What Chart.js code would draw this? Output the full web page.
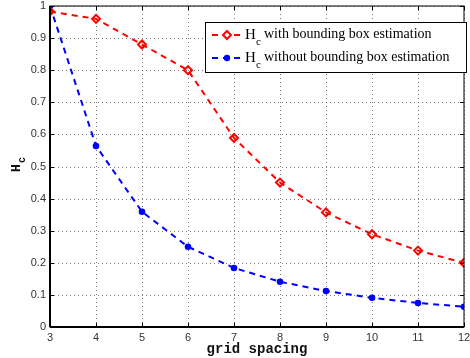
<!DOCTYPE html>
<html>
<head>
<meta charset="utf-8">
<script src="https://cdn.jsdelivr.net/npm/chart.js@4.4.0/dist/chart.umd.min.js"></script>
<style>
  html, body { margin: 0; padding: 0; background: #fff; }
  #wrap { width: 470px; height: 358px; }
</style>
</head>
<body>
<div id="wrap"><canvas id="hcChart"></canvas></div>
<script>
// données
const gridSpacing = [3, 4, 5, 6, 7, 8, 9, 10, 11, 12];
const hcWithBox = [0.983, 0.96, 0.88, 0.80, 0.589, 0.45, 0.357, 0.289, 0.238, 0.20];
const hcWithoutBox = [1.0, 0.564, 0.359, 0.25, 0.184, 0.141, 0.112, 0.091, 0.075, 0.063];
const yTicks = [0, 0.1, 0.2, 0.3, 0.4, 0.5, 0.6, 0.7, 0.8, 0.9, 1];
const legendLabels = ['with bounding box estimation', 'without bounding box estimation'];

const toPoints = ys => ys.map((y, i) => ({ x: gridSpacing[i], y: y }));

// grille pointillée dessinée à la main (sous les courbes)
const dottedGrid = {
    id: 'dottedGrid',
    beforeDatasetsDraw(chart) {
        const c = chart.ctx;
        const a = chart.chartArea;
        const xs = chart.scales.x, ys = chart.scales.y;
        c.save();
        c.strokeStyle = '#777';
        c.lineWidth = 1;
        c.setLineDash([1, 3]);
        c.beginPath();
        gridSpacing.forEach(v => {
            const px = Math.round(xs.getPixelForValue(v)) + 0.5;
            c.moveTo(px, a.top); c.lineTo(px, a.bottom);
        });
        yTicks.forEach(v => {
            const py = Math.round(ys.getPixelForValue(v)) + 0.5;
            c.moveTo(a.left, py); c.lineTo(a.right, py);
        });
        c.stroke();
        c.restore();
    }
};

// cadre, graduations internes, titres et légende façon MATLAB
const matlabDecor = {
    id: 'matlabDecor',
    afterDraw(chart) {
        const c = chart.ctx;
        const a = chart.chartArea;
        const xs = chart.scales.x, ys = chart.scales.y;
        c.save();
        c.strokeStyle = '#000';
        c.lineWidth = 1;
        c.strokeRect(a.left, a.top, a.right - a.left, a.bottom - a.top);
        c.lineWidth = 2;
        c.beginPath();
        c.moveTo(a.left, a.bottom);
        c.lineTo(a.right, a.bottom);
        c.moveTo(a.left, a.top);
        c.lineTo(a.left, a.bottom);
        c.stroke();
        c.lineWidth = 1;
        c.beginPath();
        gridSpacing.forEach(v => {
            const px = Math.round(xs.getPixelForValue(v)) + 0.5;
            c.moveTo(px, a.bottom); c.lineTo(px, a.bottom - 4);
            c.moveTo(px, a.top); c.lineTo(px, a.top + 4);
        });
        yTicks.forEach(v => {
            const py = Math.round(ys.getPixelForValue(v)) + 0.5;
            c.moveTo(a.left, py); c.lineTo(a.left + 4, py);
            c.moveTo(a.right, py); c.lineTo(a.right - 4, py);
        });
        c.stroke();

        // titres des axes
        c.fillStyle = '#111';
        c.font = 'bold 14px "Liberation Mono"';
        c.textAlign = 'center';
        c.textBaseline = 'middle';
        c.fillText('grid spacing', (a.left + a.right) / 2, 349);
        c.save();
        c.translate(17, 166);
        c.rotate(-Math.PI / 2);
        c.font = 'bold 13px "Liberation Mono"';
        c.textAlign = 'left';
        c.fillText('H', -6, 0);
        c.font = 'bold 10px "Liberation Mono"';
        c.fillText('c', 3, 5);
        c.restore();

        // légende
        const lx = 205, ly = 22, lw = 261, lh = 50;
        c.fillStyle = '#fff';
        c.fillRect(lx, ly, lw, lh);
        c.strokeStyle = '#000';
        c.lineWidth = 1;
        c.strokeRect(lx + 0.5, ly + 0.5, lw, lh);
        const rows = [
            { y: 35, color: '#ff0000', text: legendLabels[0], diamond: true },
            { y: 58, color: '#0000ff', text: legendLabels[1], diamond: false }
        ];
        rows.forEach(r => {
            c.strokeStyle = r.color;
            c.lineWidth = 2;
            c.setLineDash([6, 5]);
            c.beginPath();
            c.moveTo(212, r.y); c.lineTo(243, r.y);
            c.stroke();
            c.setLineDash([]);
            if (r.diamond) {
                c.fillStyle = '#fff';
                c.beginPath();
                c.moveTo(227, r.y - 4); c.lineTo(231, r.y);
                c.lineTo(227, r.y + 4); c.lineTo(223, r.y);
                c.closePath();
                c.fill(); c.stroke();
            } else {
                c.fillStyle = r.color;
                c.beginPath();
                c.arc(227, r.y, 3.2, 0, Math.PI * 2);
                c.fill();
            }
            c.fillStyle = '#000';
            c.textAlign = 'left';
            c.textBaseline = 'alphabetic';
            c.font = '15px "Liberation Serif"';
            c.fillText('H', 245, r.y + 4);
            c.font = '11px "Liberation Serif"';
            c.fillText('c', 256, r.y + 10);
            c.font = '14px "Liberation Serif"';
            c.fillText(r.text, 264, r.y + 3);
        });
        c.restore();
    }
};

new Chart(document.getElementById('hcChart'), {
    type: 'line',
    data: {
        datasets: [{
            label: 'Hc with bounding box estimation',
            data: toPoints(hcWithBox),
            borderColor: '#ff0000',
            backgroundColor: 'rgba(255,255,255,0)',
            borderWidth: 2,
            borderDash: [6, 5],
            pointStyle: 'rectRot',
            pointRadius: 4,
            pointBorderWidth: 2,
            pointBorderColor: '#ff0000',
            pointBackgroundColor: 'rgba(255,255,255,0)',
            tension: 0
        }, {
            label: 'Hc without bounding box estimation',
            data: toPoints(hcWithoutBox),
            borderColor: '#0000ff',
            backgroundColor: '#0000ff',
            borderWidth: 2,
            borderDash: [6, 5],
            pointStyle: 'circle',
            pointRadius: 3.3,
            pointBorderWidth: 0,
            pointBackgroundColor: '#0000ff',
            tension: 0
        }]
    },
    options: {
        responsive: true,
        maintainAspectRatio: false,
        animation: false,
        layout: { padding: { top: 6, right: 2, left: 0, bottom: 0 } },
        plugins: { legend: { display: false }, tooltip: { enabled: false } },
        scales: {
            x: {
                type: 'linear',
                min: 3, max: 12,
                afterFit: s => { s.height = 31; s.paddingLeft = 0; s.paddingRight = 0; },
                afterBuildTicks: s => { s.ticks = gridSpacing.map(v => ({ value: v })); },
                grid: { display: false, drawTicks: false },
                border: { display: false },
                ticks: { color: '#333', font: { family: 'Liberation Sans', size: 11 }, padding: 4, maxRotation: 0,
                         callback: v => String(v) }
            },
            y: {
                min: 0, max: 1,
                afterFit: s => { s.width = 50; s.paddingTop = 0; s.paddingBottom = 0; },
                afterBuildTicks: s => { s.ticks = yTicks.map(v => ({ value: v })); },
                grid: { display: false, drawTicks: false },
                border: { display: false },
                ticks: { color: '#333', font: { family: 'Liberation Sans', size: 11 }, padding: 4,
                         callback: v => String(Math.round(v * 10) / 10) }
            }
        }
    },
    plugins: [dottedGrid, matlabDecor]
});
</script>
</body>
</html>
